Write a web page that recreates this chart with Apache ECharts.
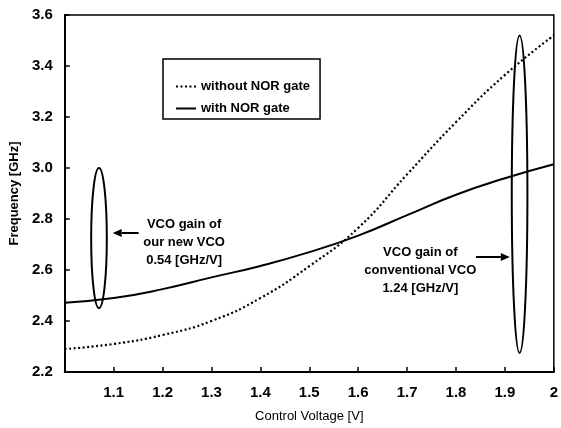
<!DOCTYPE html>
<html lang="en">
<head>
    <meta charset="UTF-8">
    <title>VCO Frequency vs Control Voltage</title>
    <script src="https://cdn.jsdelivr.net/npm/echarts@6/dist/echarts.min.js"></script>
    <style>
        html, body { margin: 0; padding: 0; background: #fff; }
        #chart { width: 561px; height: 428px; }
    </style>
</head>
<body>
    <div id="chart"></div>
    <script>
        // Data
        var voltage = [1.0, 1.1, 1.2, 1.3, 1.4, 1.5, 1.6, 1.7, 1.8, 1.9, 2.0];
        var freqWithoutNor = [2.29, 2.31, 2.345, 2.40, 2.49, 2.615, 2.765, 2.975, 3.18, 3.365, 3.52];
        var freqWithNor = [2.472, 2.49, 2.525, 2.571, 2.616, 2.67, 2.735, 2.815, 2.895, 2.96, 3.015];

        // Ellipses marking the gain ranges: [voltage, low freq, high freq]
        var gainEllipses = [[1.07, 2.45, 3.0], [1.93, 2.275, 3.52]];
        var ellipseHalfWidth = 0.016;

        // Annotation notes: [voltage, freq, text]
        var notes = [
            [1.244, 2.71, 'VCO gain of\nour new VCO\n0.54 [GHz/V]'],
            [1.727, 2.60, 'VCO gain of\nconventional VCO\n1.24 [GHz/V]']
        ];
        // Arrows: [from voltage, to voltage, freq]
        var arrows = [[1.151, 1.098, 2.745], [1.841, 1.91, 2.651]];

        var FONT = '"Liberation Sans", Arial, sans-serif';

        var chart = echarts.init(document.getElementById('chart'));

        function pairs(xs, ys) {
            return xs.map(function (x, i) { return [x, ys[i]]; });
        }

        var option = {
            backgroundColor: '#fff',
            animation: false,
            grid: {
                left: 64, right: 6, top: 15, bottom: 56,
                show: true, borderColor: '#000', borderWidth: 1.5
            },
            legend: {
                orient: 'vertical',
                left: 163, top: 59,
                padding: [21, 10, 4, 12],
                itemGap: 9,
                itemWidth: 20,
                itemHeight: 12,
                borderColor: '#000',
                borderWidth: 1.5,
                backgroundColor: '#fff',
                itemStyle: { opacity: 0 },
                textStyle: { fontFamily: FONT, fontSize: 13, fontWeight: 'bold', color: '#000' },
                data: ['without NOR gate', 'with NOR gate']
            },
            xAxis: {
                type: 'value',
                min: 1, max: 2, interval: 0.1,
                name: 'Control Voltage [V]',
                nameLocation: 'middle',
                nameGap: 38,
                nameTextStyle: { fontFamily: FONT, fontSize: 13, color: '#000' },
                axisLine: { lineStyle: { color: '#000', width: 2 } },
                axisTick: { inside: true, length: 5, lineStyle: { color: '#000', width: 1.5 } },
                axisLabel: {
                    showMinLabel: false,
                    margin: 13,
                    fontFamily: FONT, fontSize: 15, fontWeight: 'bold', color: '#000'
                },
                splitLine: { show: false }
            },
            yAxis: {
                type: 'value',
                min: 2.2, max: 3.6, interval: 0.2,
                name: 'Frequency [GHz]',
                nameLocation: 'middle',
                nameGap: 38,
                nameTextStyle: { fontFamily: FONT, fontSize: 13, fontWeight: 'bold', color: '#000' },
                axisLine: { lineStyle: { color: '#000', width: 2 } },
                axisTick: { inside: true, length: 5, lineStyle: { color: '#000', width: 1.5 } },
                axisLabel: {
                    margin: 12,
                    fontFamily: FONT, fontSize: 15, fontWeight: 'bold', color: '#000',
                    formatter: function (v) { return v.toFixed(1); }
                },
                splitLine: { show: false }
            },
            series: [
                {
                    name: 'without NOR gate',
                    type: 'line',
                    smooth: true,
                    showSymbol: false,
                    symbol: 'none',
                    lineStyle: { color: '#000', width: 2.2, type: [2, 2.5] },
                    itemStyle: { color: '#000' },
                    data: pairs(voltage, freqWithoutNor)
                },
                {
                    name: 'with NOR gate',
                    type: 'line',
                    smooth: true,
                    showSymbol: false,
                    symbol: 'none',
                    lineStyle: { color: '#000', width: 2 },
                    itemStyle: { color: '#000' },
                    data: pairs(voltage, freqWithNor)
                },
                {
                    name: 'gain ellipses',
                    type: 'custom',
                    silent: true,
                    data: gainEllipses,
                    renderItem: function (params, api) {
                        var top = api.coord([api.value(0), api.value(2)]);
                        var bottom = api.coord([api.value(0), api.value(1)]);
                        var side = api.coord([api.value(0) + ellipseHalfWidth, api.value(1)]);
                        return {
                            type: 'ellipse',
                            shape: {
                                cx: top[0],
                                cy: (top[1] + bottom[1]) / 2,
                                rx: side[0] - top[0],
                                ry: (bottom[1] - top[1]) / 2
                            },
                            style: { fill: 'none', stroke: '#000', lineWidth: 2 }
                        };
                    }
                },
                {
                    name: 'notes',
                    type: 'custom',
                    silent: true,
                    data: notes,
                    renderItem: function (params, api) {
                        var p = api.coord([api.value(0), api.value(1)]);
                        return {
                            type: 'text',
                            x: p[0], y: p[1],
                            style: {
                                text: notes[params.dataIndex][2],
                                font: 'bold 13px ' + FONT,
                                fill: '#000',
                                align: 'center',
                                verticalAlign: 'middle',
                                lineHeight: 18
                            }
                        };
                    }
                },
                {
                    name: 'arrows',
                    type: 'custom',
                    silent: true,
                    data: arrows,
                    renderItem: function (params, api) {
                        var a = api.coord([api.value(0), api.value(2)]);
                        var b = api.coord([api.value(1), api.value(2)]);
                        var dir = b[0] > a[0] ? 1 : -1;
                        var head = 9;
                        return {
                            type: 'group',
                            children: [
                                {
                                    type: 'line',
                                    shape: { x1: a[0], y1: a[1], x2: b[0] - dir * head, y2: b[1] },
                                    style: { stroke: '#000', lineWidth: 2 }
                                },
                                {
                                    type: 'polygon',
                                    shape: { points: [[b[0], b[1]], [b[0] - dir * head, b[1] - 4], [b[0] - dir * head, b[1] + 4]] },
                                    style: { fill: '#000' }
                                }
                            ]
                        };
                    }
                }
            ]
        };

        chart.setOption(option);
    </script>
</body>
</html>
